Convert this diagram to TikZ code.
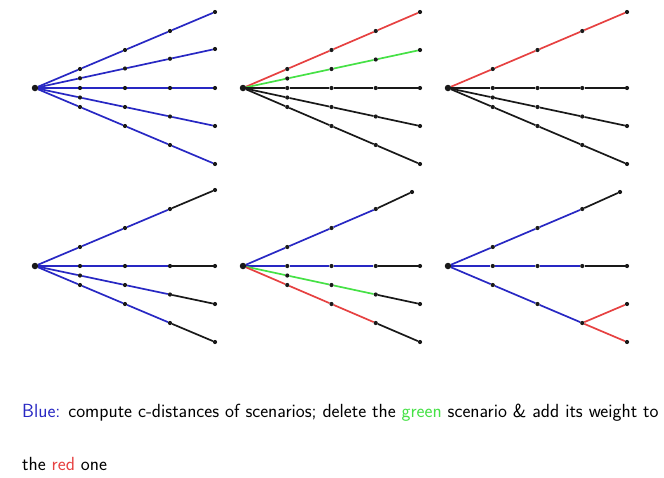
\documentclass[tikz,border=0pt]{standalone}
\usetikzlibrary{backgrounds}
\definecolor{myblue}{RGB}{40,40,195}
\definecolor{myred}{RGB}{230,65,65}
\definecolor{mygreen}{RGB}{70,225,70}
\definecolor{myblack}{RGB}{25,25,25}
\tikzset{
  dot/.style={circle, fill=myblack, inner sep=0pt, minimum size=4.2pt},
  rootdot/.style={circle, fill=myblack, inner sep=0pt, minimum size=6.5pt},
  ln/.style={line width=1.7pt},
  bl/.style={ln, draw=myblue},
  rd/.style={ln, draw=myred},
  gr/.style={ln, draw=mygreen},
  bk/.style={ln, draw=myblack},
  caption/.style={font=\sffamily\fontsize{19}{23}\selectfont, anchor=base west, inner sep=0pt}
}
% #1 prefix, #2 root x, #3 root y, #4 step, #5 list of line/slope
\newcommand\mkfan[5]{%
  \node[rootdot] (#1r) at (#2,#3) {};
  \foreach \i/\s in {#5}{%
    \foreach \j in {1,...,4}{%
      \node[dot] (#1\i-\j) at ({#2+\j*#4},{#3+\j*\s}) {};
    }%
  }%
}
\begin{document}
\begin{tikzpicture}[x=1pt,y=-1pt]
\useasboundingbox (0,0) rectangle (664,477);
% ---------- nodes ----------
\mkfan{A}{35}{88}{45}{1/-19,2/-9.75,3/0,4/9.5,5/19}
\mkfan{B}{243}{88}{44.25}{1/-19,2/-9.5,3/0,4/9.5,5/19}
\mkfan{C}{448}{88}{44.75}{1/-19,3/0,4/9.5,5/19}
\mkfan{D}{35}{266}{45}{1/-19,2/0,3/9.5,4/19}
\node[rootdot] (Er) at (243,266) {};
\foreach \i/\s in {2/0,3/9.5,4/19}{\foreach \j in {1,...,4}{\node[dot] (E\i-\j) at ({243+\j*44.25},{266+\j*\s}) {};}}
\foreach \j in {1,2,3}{\node[dot] (E1-\j) at ({243+\j*44.25},{266-\j*19}) {};}
\node[dot] (E1-4) at (412,192) {};
\node[rootdot] (Fr) at (448,266) {};
\foreach \i/\s in {2/0,4/19}{\foreach \j in {1,...,4}{\node[dot] (F\i-\j) at ({448+\j*44.75},{266+\j*\s}) {};}}
\foreach \j in {1,2,3}{\node[dot] (F1-\j) at ({448+\j*44.75},{266-\j*19}) {};}
\node[dot] (F1-4) at (620,192) {};
\node[dot] (F3-4) at (627,304) {};
% ---------- connectors ----------
\begin{scope}[on background layer]
  % panel A
  \foreach \i in {1,...,5}{\draw[bl] (Ar) -- (A\i-1) -- (A\i-2) -- (A\i-3) -- (A\i-4);}
  % panel B
  \draw[rd] (Br) -- (B1-1) -- (B1-2) -- (B1-3) -- (B1-4);
  \draw[gr] (Br) -- (B2-1) -- (B2-2) -- (B2-3) -- (B2-4);
  \foreach \i in {3,4,5}{\draw[bk] (Br) -- (B\i-1) -- (B\i-2) -- (B\i-3) -- (B\i-4);}
  % panel C
  \draw[rd] (Cr) -- (C1-1) -- (C1-2) -- (C1-3) -- (C1-4);
  \foreach \i in {3,4,5}{\draw[bk] (Cr) -- (C\i-1) -- (C\i-2) -- (C\i-3) -- (C\i-4);}
  % panel D
  \foreach \i in {1,...,4}{\draw[bl] (Dr) -- (D\i-1) -- (D\i-2) -- (D\i-3); \draw[bk] (D\i-3) -- (D\i-4);}
  % panel E
  \draw[bl] (Er) -- (E1-1) -- (E1-2) -- (E1-3);
  \draw[bl] (Er) -- (E2-1) -- (E2-2) -- (E2-3);
  \draw[gr] (Er) -- (E3-1) -- (E3-2) -- (E3-3);
  \draw[rd] (Er) -- (E4-1) -- (E4-2) -- (E4-3);
  \foreach \i in {1,...,4}{\draw[bk] (E\i-3) -- (E\i-4);}
  % panel F
  \draw[bl] (Fr) -- (F1-1) -- (F1-2) -- (F1-3);
  \draw[bl] (Fr) -- (F2-1) -- (F2-2) -- (F2-3);
  \draw[bl] (Fr) -- (F4-1) -- (F4-2) -- (F4-3);
  \draw[bk] (F1-3) -- (F1-4);
  \draw[bk] (F2-3) -- (F2-4);
  \draw[rd] (F4-3) -- (F4-4);
  \draw[rd] (F4-3) -- (F3-4);
\end{scope}
% ---------- caption ----------
\node[caption] (t1) at (22,417) {\textcolor{myblue}{Blue:} compute c-distances of scenarios; delete the \textcolor{mygreen}{green} scenario \& add its weight to};
\node[caption] (t2) at (22,470) {the \textcolor{myred}{red} one};
\end{tikzpicture}
\end{document}
